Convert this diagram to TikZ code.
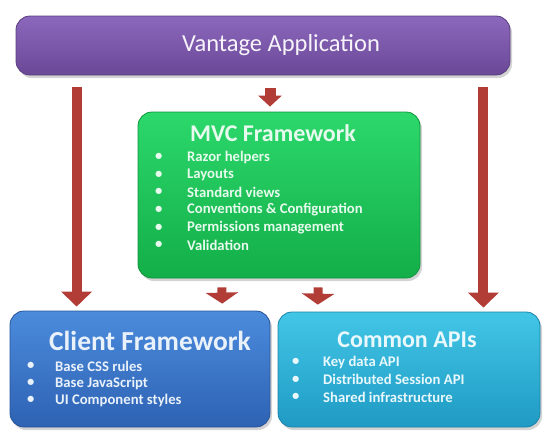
\documentclass[tikz,border=0pt]{standalone}
\usepackage{fontspec}
\setmainfont{Carlito}
\usetikzlibrary{shadows,arrows.meta}
\definecolor{apptop}{HTML}{8C68BD}
\definecolor{appbot}{HTML}{6A4896}
\definecolor{mvctop}{HTML}{2CD86B}
\definecolor{mvcbot}{HTML}{13AE48}
\definecolor{clitop}{HTML}{4B8BDC}
\definecolor{clibot}{HTML}{2E62B3}
\definecolor{apitop}{HTML}{42C6E6}
\definecolor{apibot}{HTML}{1F9AC4}
\definecolor{arrowred}{HTML}{B23C36}
\begin{document}
\begin{tikzpicture}[x=1pt,y=-1pt,
    box/.style={rounded corners=14pt,line width=0.8pt,inner sep=0pt,
      drop shadow={shadow xshift=2pt,shadow yshift=-3pt,opacity=0.35}},
    title/.style={font=\bfseries\fontsize{24}{26}\selectfont,inner sep=0pt},
    item/.style={anchor=west,font=\bfseries\fontsize{14.7}{16}\selectfont,inner sep=0pt},
    fat/.style={draw=arrowred,line width=10pt,-{Triangle[width=30pt,length=15pt]}},
    stub/.style={draw=arrowred,line width=9pt,-{Triangle[width=32pt,length=11pt]}}]
    \useasboundingbox (0,0) rectangle (559,437);
    % boxes
    \node[box,draw=appbot!85!black,top color=apptop,bottom color=appbot,
        minimum width=494pt,minimum height=59pt] (app) at (263,45.5) {};
    \node[box,draw=mvcbot!85!black,top color=mvctop,bottom color=mvcbot,
        minimum width=282pt,minimum height=166pt] (mvc) at (279,195) {};
    \node[box,draw=clibot!85!black,top color=clitop,bottom color=clibot,
        minimum width=260pt,minimum height=116pt] (client) at (140,369) {};
    \node[box,draw=apibot!85!black,top color=apitop,bottom color=apibot,
        minimum width=262pt,minimum height=115pt] (apis) at (409,369.5) {};
    % titles
    \node[inner sep=0pt,text=white!92!apptop,font=\fontsize{24.5}{26}\selectfont]
        (app-title) at (281,45) {Vantage Application};
    \node[title,text=white!88!mvctop] (mvc-title) at (273,133) {MVC Framework};
    \node[title,text=white!88!clitop,font=\bfseries\fontsize{27.5}{29}\selectfont]
        (client-title) at (150,341) {Client Framework};
    \node[title,text=white!88!apitop] (apis-title) at (407,340) {Common APIs};
    % bullet lists
    \foreach \t [count=\i] in {Razor helpers,Layouts,Standard views,
        Conventions \& Configuration,Permissions management,Validation} {
      \node[item,text=white!88!mvctop] (mvc-b\i) at (155,139.5+17.6*\i) {\textbullet};
      \node[item,text=white!88!mvctop] (mvc-\i) at (187,139.5+17.6*\i) {\t};
    }
    \foreach \t [count=\i] in {Base CSS rules,Base JavaScript,UI Component styles} {
      \node[item,text=white!88!clitop] (client-b\i) at (27,349+17*\i) {\textbullet};
      \node[item,text=white!88!clitop] (client-\i) at (55,349+17*\i) {\t};
    }
    \foreach \t [count=\i] in {Key data API,Distributed Session API,Shared infrastructure} {
      \node[item,text=white!88!apitop] (apis-b\i) at (292,344.5+17.5*\i) {\textbullet};
      \node[item,text=white!88!apitop] (apis-\i) at (323,344.5+17.5*\i) {\t};
    }
    % arrows
    \draw[fat,shorten <=12pt,shorten >=4pt] ([xshift=61pt]app.south west) -- ([xshift=67pt]client.north west);
    \draw[fat,shorten <=12pt,shorten >=4pt] ([xshift=-27pt]app.south east) -- ([xshift=-57pt]apis.north east);
    \draw[draw=arrowred,line width=11pt,-{Triangle[width=23pt,length=11pt]},
        shorten <=13pt,shorten >=5pt] ([xshift=7pt]app.south) -- ([xshift=-9pt]mvc.north);
    \draw[stub,shorten <=9pt,shorten >=7pt] ([xshift=84pt]mvc.south west) -- ([xshift=-48pt]client.north east);
    \draw[stub,shorten <=9pt,shorten >=7pt] ([xshift=-102pt]mvc.south east) -- ([xshift=40pt]apis.north west);
\end{tikzpicture}
\end{document}
